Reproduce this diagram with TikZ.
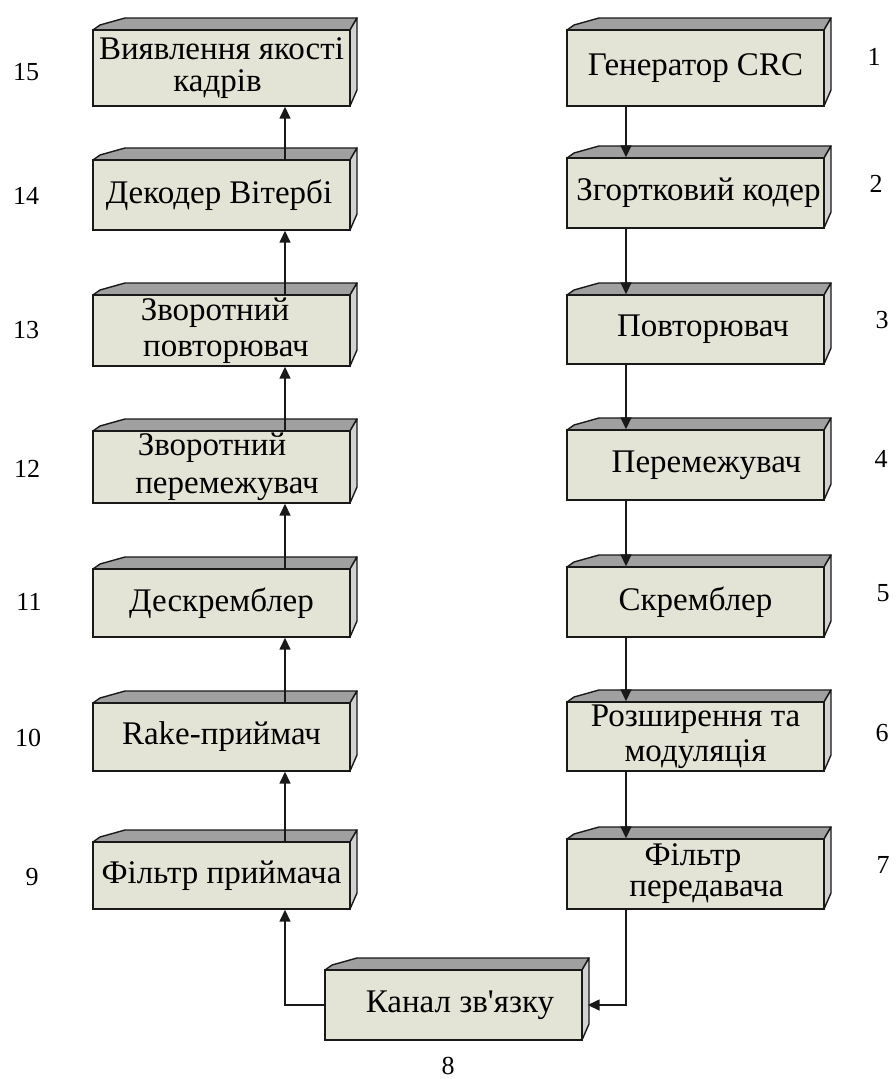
\documentclass[tikz,border=0pt]{standalone}
\usepackage{fontspec}
\setmainfont{Liberation Serif}
\newfontfamily\plainrm{Liberation Serif}
\usetikzlibrary{arrows.meta,calc}
\definecolor{frontc}{RGB}{228,228,214}
\definecolor{topc}{RGB}{160,160,160}
\definecolor{sidec}{RGB}{210,210,210}
\definecolor{edgec}{RGB}{25,25,25}
\tikzset{
  blk/.style={draw=edgec, fill=frontc, line width=1.4pt, inner sep=0pt, align=center,
              font=\fontsize{33}{36}\selectfont},
  topface/.style={fill=topc, draw=edgec, line width=1.4pt, line join=round},
  sideface/.style={fill=sidec, draw=edgec, line width=1.4pt, line join=round},
  conn/.style={line width=1.5pt, draw=edgec, -{Triangle[width=11pt,length=12pt]}},
  numlbl/.style={font=\fontsize{26}{28}\selectfont, inner sep=0pt}
}
\newcommand{\rsh}[1]{\hspace*{#1}}
% name, x0, y0, x1, y1, text
\newcommand{\boxthreed}[6]{%
  \filldraw[topface] (#2,#3) -- (#2+7,#3-5) -- (#2+32,#3-12) -- (#4+7,#3-12) -- (#4,#3) -- cycle;
  \filldraw[sideface] (#4,#3) -- (#4+7,#3-12) -- (#4+7,#5-16) -- (#4,#5) -- cycle;
  \node[blk, minimum width={(#4-#2)*1pt}, minimum height={(#5-#3)*1pt}] (#1) at ({(#2+#4)/2},{(#3+#5)/2}) {#6};
}
\begin{document}
\begin{tikzpicture}[x=1pt,y=-1pt]
\useasboundingbox[fill=white] (0,0) rectangle (896,1079);

% left column (receiver)
\boxthreed{b15}{93}{30}{350}{106}{Виявлення якості\\[-4pt]кадрів\rsh{8pt}}
\boxthreed{b14}{93}{160}{350}{230}{Декодер Вітербі\rsh{5pt}}
\boxthreed{b13}{93}{295}{350}{366}{Зворотний\rsh{13pt}\\\rsh{9pt}повторювач}
\boxthreed{b12}{93}{431}{350}{503}{Зворотний\rsh{19pt}\\[2pt]\rsh{11pt}перемежувач}
\boxthreed{b11}{93}{569}{350}{637}{Дескремблер}
\boxthreed{b10}{93}{703}{350}{771}{Rake-приймач}
\boxthreed{b9}{93}{842}{350}{909}{Фільтр приймача}

% right column (transmitter)
\boxthreed{b1}{567}{30}{824}{106}{Генератор CRC}
\boxthreed{b2}{567}{158}{824}{228}{\rsh{6pt}Згортковий кодер}
\boxthreed{b3}{567}{295}{824}{364}{\rsh{15pt}Повторювач}
\boxthreed{b4}{567}{430}{824}{500}{\rsh{22pt}Перемежувач}
\boxthreed{b5}{567}{567}{824}{637}{Скремблер}
\boxthreed{b6}{567}{702}{824}{771}{Розширення та\\[-1.5pt]модуляція}
\boxthreed{b7}{567}{839}{824}{909}{Фільтр\rsh{5pt}\\[-5pt]\rsh{22pt}передавача}

% channel
\boxthreed{ch}{325}{970}{582}{1040}{\rsh{13pt}Канал зв{\plainrm'}язку}

% numbers
\node[numlbl] (n15) at (26,72) {15};
\node[numlbl] (n14) at (26,196) {14};
\node[numlbl] (n13) at (26,330) {13};
\node[numlbl] (n12) at (27,469) {12};
\node[numlbl] (n11) at (29,602) {11};
\node[numlbl] (n10) at (28,738) {10};
\node[numlbl] (n9) at (32,877) {9};
\node[numlbl] (n1) at (874,57) {1};
\node[numlbl] (n2) at (876,184) {2};
\node[numlbl] (n3) at (882,320) {3};
\node[numlbl] (n4) at (881,459) {4};
\node[numlbl] (n5) at (883,593) {5};
\node[numlbl] (n6) at (882,733) {6};
\node[numlbl] (n7) at (883,865) {7};
\node[numlbl] (n8) at (448,1066) {8};

% right column connectors (downwards)
\draw[conn] ([xshift=-69.5pt]b1.south) -- ([xshift=-69.5pt]b2.north);
\draw[conn] ([xshift=-69.5pt]b2.south) -- ([xshift=-69.5pt]b3.north);
\draw[conn] ([xshift=-69.5pt]b3.south) -- ([xshift=-69.5pt]b4.north);
\draw[conn] ([xshift=-69.5pt]b4.south) -- ([xshift=-69.5pt]b5.north);
\draw[conn] ([xshift=-69.5pt]b5.south) -- ([xshift=-69.5pt]b6.north);
\draw[conn] ([xshift=-69.5pt]b6.south) -- ([xshift=-69.5pt]b7.north);
\draw[conn] ([xshift=-69.5pt]b7.south) |- ([xshift=5pt]ch.east);

% channel to receiver
\draw[conn] (ch.west) -| ([xshift=63.5pt]b9.south);

% left column connectors (upwards)
\draw[conn] ([xshift=63.5pt]b9.north) -- ([xshift=63.5pt]b10.south);
\draw[conn] ([xshift=63.5pt]b10.north) -- ([xshift=63.5pt]b11.south);
\draw[conn] ([xshift=63.5pt]b11.north) -- ([xshift=63.5pt]b12.south);
\draw[conn] ([xshift=63.5pt]b12.north) -- ([xshift=63.5pt]b13.south);
\draw[conn] ([xshift=63.5pt]b13.north) -- ([xshift=63.5pt]b14.south);
\draw[conn] ([xshift=63.5pt]b14.north) -- ([xshift=63.5pt]b15.south);
\end{tikzpicture}
\end{document}
